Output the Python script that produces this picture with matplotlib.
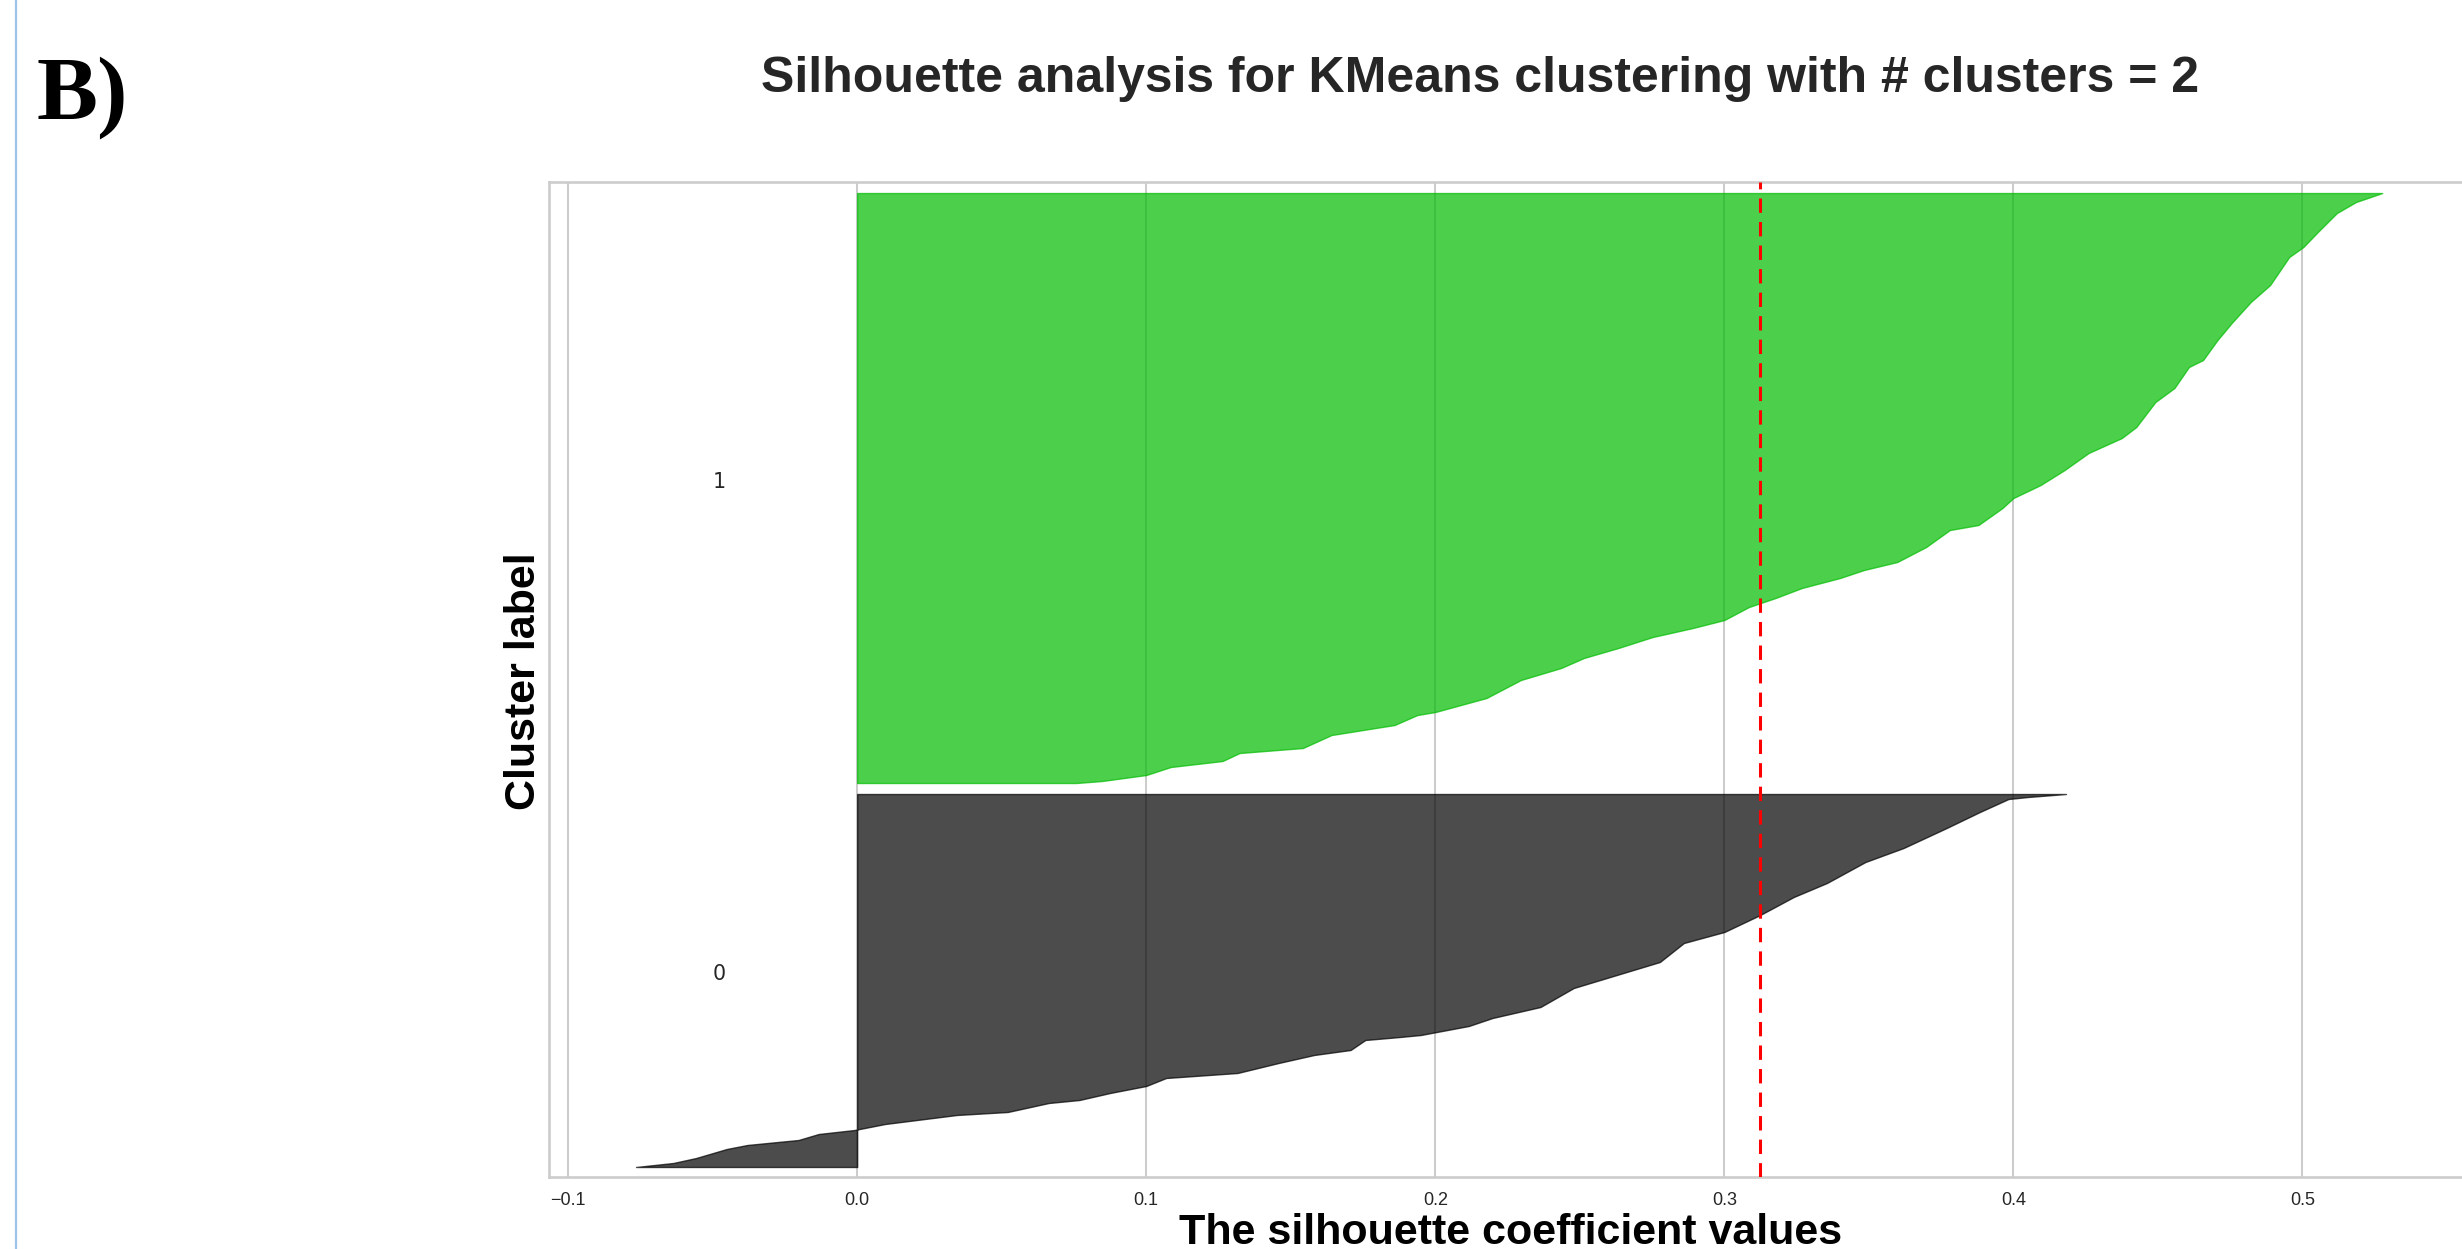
import numpy as np
import matplotlib
matplotlib.use('Agg')
import matplotlib.pyplot as plt
import matplotlib.cm as cm
from matplotlib.lines import Line2D

n_clusters = 2
cluster_sizes = [374, 591]
silhouette_avg = 0.3125

# sorted silhouette values as (rank inside cluster, value)
c0_rank = [0, 4, 9, 18, 22, 25, 27, 33, 37, 43, 52, 55, 64, 67, 74, 81, 89, 94, 104, 112,
           117, 127, 130, 132, 141, 149, 160, 179, 192, 205, 224, 235, 252, 270, 284, 305,
           319, 339, 355, 368, 370, 373]
c0_vals = [-0.0765, -0.0636, -0.0557, -0.0451, -0.0380, -0.0274, -0.0203, -0.0133, -0.0009,
           0.0097, 0.0345, 0.0521, 0.0663, 0.0769, 0.0875, 0.1000, 0.1069, 0.1316, 0.1458,
           0.1581, 0.1707, 0.1758, 0.1878, 0.1950, 0.2116, 0.2198, 0.2364, 0.2479, 0.2628,
           0.2777, 0.2860, 0.3000, 0.3124, 0.3240, 0.3355, 0.3488, 0.3620, 0.3769, 0.3884,
           0.3983, 0.4050, 0.4182]
c1_rank = [0, 2, 8, 16, 22, 30, 35, 48, 58, 68, 71, 85, 103, 115, 125, 135, 146, 155, 163,
           176, 185, 195, 205, 213, 221, 236, 253, 258, 275, 285, 298, 313, 330, 345, 356,
           381, 395, 416, 423, 443, 460, 481, 498, 526, 536, 551, 570, 581, 590]
c1_vals = [0.0758, 0.0847, 0.1000, 0.1085, 0.1264, 0.1323, 0.1542, 0.1641, 0.1859, 0.1938,
           0.2000, 0.2177, 0.2296, 0.2435, 0.2514, 0.2633, 0.2752, 0.2891, 0.3000, 0.3085,
           0.3177, 0.3268, 0.3400, 0.3483, 0.3598, 0.3698, 0.3780, 0.3879, 0.3962, 0.4000,
           0.4094, 0.4177, 0.4260, 0.4375, 0.4425, 0.4491, 0.4557, 0.4607, 0.4656, 0.4706,
           0.4755, 0.4821, 0.4888, 0.4954, 0.5003, 0.5053, 0.5119, 0.5185, 0.5276]
x_ticks = [-0.1, 0.0, 0.1, 0.2, 0.3, 0.4, 0.5]

ranks = [c0_rank, c1_rank]
vals = [c0_vals, c1_vals]

plt.rcParams['text.color'] = '#262626'
plt.rcParams['xtick.color'] = '#262626'

fig = plt.figure(figsize=(24.62, 12.49), dpi=100)
ax = fig.add_axes([0.2230, 0.05765, 0.7803, 0.7966])

y_lower = 10
for i in range(n_clusters):
    y = y_lower + np.array(ranks[i])
    color = cm.nipy_spectral(float(i) / n_clusters)
    ax.fill_betweenx(y, 0, vals[i], facecolor=color, edgecolor=color, alpha=0.7, zorder=2)
    ax.text(-0.05, y_lower + 0.5 * cluster_sizes[i], str(i), fontsize=14.8,
            family='DejaVu Sans', color='#262626')
    y_lower = y_lower + cluster_sizes[i] + 10

ax.axvline(x=silhouette_avg, color='red', linestyle=(0, (4.7, 3.0)), linewidth=2.2, zorder=3)

ax.set_xlim(-0.1066, 0.558)
ax.set_ylim(0, sum(cluster_sizes) + (n_clusters + 1) * 10)
ax.set_yticks([])
ax.set_xticks(x_ticks)
ax.tick_params(axis='x', length=0, pad=11, labelsize=13)
for lab in ax.get_xticklabels():
    lab.set_family(['Liberation Sans Narrow', 'Liberation Sans', 'DejaVu Sans'])

ax.grid(axis='x', color='#cccccc', linewidth=1.45, zorder=0)
ax.set_axisbelow(True)
for s in ax.spines.values():
    s.set_color('#cccccc')
    s.set_linewidth(1.9)

ax.set_xlabel('The silhouette coefficient values', fontsize=31, fontweight='bold',
              family=['Liberation Sans Narrow', 'Liberation Sans'], va='baseline')
ax.xaxis.set_label_coords(0.5003, -0.0672)
ax.set_ylabel('Cluster label', fontsize=31, fontweight='bold', family='Liberation Sans')
ax.yaxis.label.set_va('baseline')
ax.yaxis.set_label_coords(-0.0073, 0.4985)

fig.suptitle('Silhouette analysis for KMeans clustering with # clusters = 2', x=0.6011,
             y=0.9263, va='baseline', fontsize=36, fontweight='bold',
             family=['Liberation Sans Narrow', 'Liberation Sans'])

fig.text(0.015, 0.9039, 'B)', fontsize=66, fontweight='bold', family='Liberation Serif',
         color='black', va='baseline')
fig.add_artist(Line2D([0.0065, 0.0065], [0, 1], color='#9dc3e6', linewidth=1.6))

fig.savefig('out.png', dpi=100)
